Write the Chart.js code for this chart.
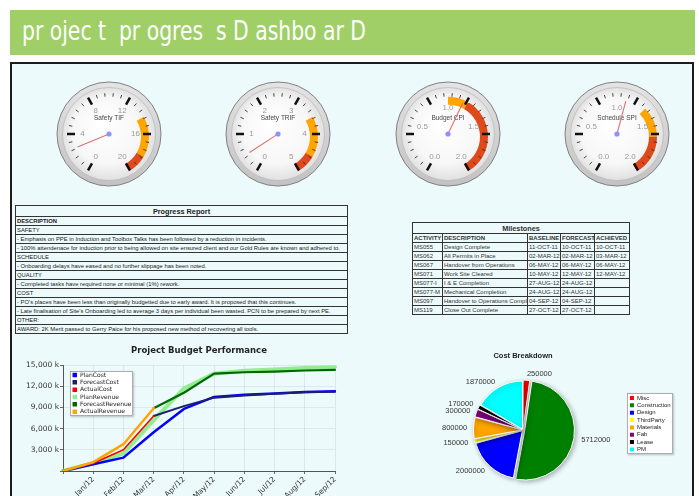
<!DOCTYPE html>
<html><head><meta charset="utf-8">
<script src="https://cdn.jsdelivr.net/npm/chart.js"></script>
<style>
html,body{margin:0;padding:0;}
body{width:699px;height:496px;overflow:hidden;background:#fff;position:relative;font-family:'Liberation Sans',Arial,sans-serif;}
#band{position:absolute;left:10px;top:10px;width:685px;height:45px;background:#a0cf67;overflow:hidden;}
#bandText{position:absolute;left:12px;top:4px;color:#fff;font-family:'Liberation Sans Narrow','DejaVu Sans Condensed',sans-serif;font-size:26px;line-height:34px;white-space:pre;transform-origin:0 50%;}
#panel{position:absolute;left:10px;top:62px;width:680px;height:460px;border:2px solid #1c1c1c;background:#edfafc;}
canvas{position:absolute;}
table.t{position:absolute;border-collapse:collapse;table-layout:fixed;font-family:'Liberation Sans',Arial,sans-serif;color:#222;border:1.5px solid #222;}
table.t td{border:1px solid #333;padding:0 1px;white-space:nowrap;overflow:hidden;font-size:5.85px;height:8px;line-height:7px;text-align:left;}
table.t tr.ttl td{font-size:7.3px;font-weight:bold;text-align:center;height:10px;line-height:9px;}
table.t td.b{font-weight:bold;}
#report{left:15px;top:205px;width:332px;}
#miles{left:412px;top:222px;width:217px;}
#miles td{color:#333;font-size:6px;}
#miles tr.ttl td{font-size:7.3px;}
</style>
</head>
<body>
<div id="band"><span id="bandText">pr ojec t  pr ogres  s D ashbo ar D</span></div>
<div id="panel"></div>
<canvas id="g0" width="120" height="120" style="left:49px;top:74px"></canvas>
<canvas id="g1" width="120" height="120" style="left:218px;top:74px"></canvas>
<canvas id="g2" width="120" height="120" style="left:388px;top:74px"></canvas>
<canvas id="g3" width="120" height="120" style="left:557px;top:74px"></canvas>
<table class="t" id="report"></table>
<table class="t" id="miles"></table>
<canvas id="budget" width="330" height="165" style="left:20px;top:340px"></canvas>
<canvas id="pie" width="265" height="156" style="left:430px;top:340px"></canvas>
<script>
// ---------------- DATA ----------------
const gaugeTitles = ['Safety TIF', 'Safety TRIF', 'Budget CPI', 'Schedule SPI'];
const gaugeMin = [0, 0, 0, 0];
const gaugeMax = [20, 5, 2, 2];
const gaugeValues = [2.5, 0.45, 1.17, 1.10];
const gaugeOrangeFrom = [14, 3.5, 1.0, 1.3];
const gaugeRedFrom = [18, 4.5, 1.2, 1.6];
const gaugeTickLabels = [
  ['0', '4', '8', '12', '16', '20'],
  ['0', '1', '2', '3', '4', '5'],
  ['0.0', '0.5', '1.0', '1.5', '2.0'],
  ['0.0', '0.5', '1.0', '1.5', '2.0']
];

const reportTitle = 'Progress Report';
const reportHeader = 'DESCRIPTION';
const reportRows = [
  'SAFETY',
  '- Emphasis on PPE in Induction and Toolbox Talks has been followed by a reduction in incidents.',
  '- 100% attendenace for induction prior to being allowed on site ensured client and our Gold Rules are known and adhered to.',
  'SCHEDULE',
  '- Onboarding delays have eased and no further slippage has been noted.',
  'QUALITY',
  '- Completed tasks have required none or minimal (1%) rework.',
  'COST',
  "- PO's places have been less than originally budgetted due to early award. It is proposed that this continues.",
  "- Late finalisation of Site's Onboarding led to average 3 days per individual been wasted. PCN to be prepared by next PE.",
  'OTHER:',
  'AWARD: 2K Merit passed to Gerry Paice for his proposed new method of recovering all tools.'
];

const msTitle = 'Milestones';
const msHeaders = ['ACTIVITY', 'DESCRIPTION', 'BASELINE', 'FORECAST', 'ACHIEVED'];
const msActivity = ['MS055', 'MS062', 'MS067', 'MS071', 'MS077-I', 'MS077-M', 'MS097', 'MS119'];
const msDescription = ['Design Complete', 'All Permits in Place', 'Handover from Operations', 'Work Site Cleared', 'I & E Completion', 'Mechanical Completion', 'Handover to Operations Completion', 'Close Out Complete'];
const msBaseline = ['11-OCT-11', '02-MAR-12', '06-MAY-12', '10-MAY-12', '27-AUG-12', '24-AUG-12', '04-SEP-12', '27-OCT-12'];
const msForecast = ['10-OCT-11', '02-MAR-12', '06-MAY-12', '12-MAY-12', '24-AUG-12', '24-AUG-12', '04-SEP-12', '27-OCT-12'];
const msAchieved = ['10-OCT-11', '03-MAR-12', '06-MAY-12', '12-MAY-12', '', '', '', ''];

const months = ['', 'Jan/12', 'Feb/12', 'Mar/12', 'Apr/12', 'May/12', 'Jun/12', 'Jul/12', 'Aug/12', 'Sep/12'];
const planCost        = [0, 950, 1900, 5500, 8800, 10500, 10800, 11000, 11200, 11300];
const forecastCost    = [null, null, null, 7800, 9200, 10400, 10700, 10950, 11150, 11250];
const actualCost      = [0, 1100, 3000, 7800, null, null, null, null, null, null];
const planRevenue     = [0, 1100, 2500, 7200, 11700, 13800, 14200, 14400, 14600, 14750];
const forecastRevenue = [null, null, null, 8900, 11100, 13800, 14000, 14100, 14250, 14350];
const actualRevenue   = [0, 1250, 3800, 8900, null, null, null, null, null, null];
const yTickStep = 3000;
const yMax = 15000;

const costCategories = ['Misc', 'Construction', 'Design', 'ThirdParty', 'Materials', 'Fab', 'Lease', 'PM'];
const costValues = [250000, 5712000, 2000000, 150000, 800000, 300000, 170000, 1870000];
const costColors = ['#ff0000', '#008000', '#0000ff', '#ffff00', '#ffa500', '#800080', '#000000', '#00ffff'];

// ---------------- HEADER ----------------
(function(){
  const s = document.getElementById('bandText');
  const w = s.getBoundingClientRect().width;
  s.style.transform = 'scaleX(' + (344 / w) + ')';
})();

// ---------------- TABLES ----------------
function esc(s){ return s.replace(/&/g,'&amp;').replace(/</g,'&lt;'); }
(function(){
  let h = '<colgroup><col style="width:332px"></colgroup>';
  h += '<tr class="ttl"><td>' + esc(reportTitle) + '</td></tr>';
  h += '<tr><td class="b">' + esc(reportHeader) + '</td></tr>';
  reportRows.forEach(r => { h += '<tr><td>' + esc(r) + '</td></tr>'; });
  document.getElementById('report').innerHTML = h;

  let m = '<colgroup><col style="width:30px"><col style="width:85px"><col style="width:33px"><col style="width:34px"><col style="width:35px"></colgroup>';
  m += '<tr class="ttl"><td colspan="5">' + esc(msTitle) + '</td></tr>';
  m += '<tr>' + msHeaders.map(x => '<td class="b">' + esc(x) + '</td>').join('') + '</tr>';
  msActivity.forEach((a, i) => {
    m += '<tr><td>' + esc(a) + '</td><td>' + esc(msDescription[i]) + '</td><td>' + esc(msBaseline[i]) +
         '</td><td>' + esc(msForecast[i]) + '</td><td>' + esc(msAchieved[i]) + '</td></tr>';
  });
  document.getElementById('miles').innerHTML = m;
})();

// ---------------- GAUGES ----------------
function gaugeAngle(i, v){
  const t = (v - gaugeMin[i]) / (gaugeMax[i] - gaugeMin[i]);
  return ((-150 + 300 * t) - 90) * Math.PI / 180;
}
function degAngle(d){ return (d - 90) * Math.PI / 180; }

const gaugePlugin = {
  id: 'gaugeFace',
  beforeDatasetsDraw(chart, args, opts){
    const ctx = chart.ctx, ca = chart.chartArea;
    const cx = (ca.left + ca.right) / 2, cy = (ca.top + ca.bottom) / 2;
    ctx.save();
    let g = ctx.createLinearGradient(cx, cy - 52, cx, cy + 52);
    g.addColorStop(0, '#e4e4e4'); g.addColorStop(1, '#c2c2c2');
    ctx.beginPath(); ctx.arc(cx, cy, 52, 0, Math.PI * 2);
    ctx.fillStyle = g; ctx.fill();
    ctx.lineWidth = 1; ctx.strokeStyle = '#808080'; ctx.stroke();
    let rg = ctx.createRadialGradient(cx - 8, cy - 12, 2, cx, cy, 47);
    rg.addColorStop(0, '#ffffff'); rg.addColorStop(0.7, '#f7f7f7'); rg.addColorStop(1, '#e0e0e0');
    ctx.beginPath(); ctx.arc(cx, cy, 46.5, 0, Math.PI * 2);
    ctx.fillStyle = rg; ctx.fill();
    ctx.lineWidth = 0.6; ctx.strokeStyle = '#b0b0b0'; ctx.stroke();
    ctx.restore();
  },
  afterDatasetsDraw(chart, args, opts){
    const i = opts.index;
    const ctx = chart.ctx, ca = chart.chartArea;
    const cx = (ca.left + ca.right) / 2, cy = (ca.top + ca.bottom) / 2;
    ctx.save();
    for (let k = 0; k <= 5; k++) {
      const d = -150 + 60 * k;
      const a = degAngle(d);
      ctx.beginPath();
      ctx.moveTo(cx + Math.cos(a) * 34, cy + Math.sin(a) * 34);
      ctx.lineTo(cx + Math.cos(a) * 42, cy + Math.sin(a) * 42);
      ctx.lineWidth = 2.5; ctx.strokeStyle = '#111'; ctx.stroke();
      if (k < 5) {
        for (let mm = 1; mm <= 4; mm++) {
          const b = degAngle(d + 12 * mm);
          ctx.beginPath();
          ctx.moveTo(cx + Math.cos(b) * 37.5, cy + Math.sin(b) * 37.5);
          ctx.lineTo(cx + Math.cos(b) * 41, cy + Math.sin(b) * 41);
          ctx.lineWidth = 0.9; ctx.strokeStyle = '#333'; ctx.stroke();
        }
      }
    }
    const labs = gaugeTickLabels[i];
    ctx.font = '8px "Liberation Sans", Arial, sans-serif';
    ctx.fillStyle = '#999';
    ctx.textAlign = 'center'; ctx.textBaseline = 'middle';
    labs.forEach((l, j) => {
      const a = degAngle(-150 + 300 * j / (labs.length - 1));
      ctx.fillText(l, cx + Math.cos(a) * 26.5, cy + Math.sin(a) * 26.5);
    });
    ctx.font = '6.5px "Liberation Sans", Arial, sans-serif';
    ctx.fillStyle = '#444';
    ctx.fillText(gaugeTitles[i], cx, cy - 16);
    const a = gaugeAngle(i, gaugeValues[i]);
    ctx.beginPath();
    ctx.moveTo(cx - Math.cos(a) * 2, cy - Math.sin(a) * 2);
    ctx.lineTo(cx + Math.cos(a) * 34, cy + Math.sin(a) * 34);
    ctx.lineWidth = 1.1; ctx.strokeStyle = '#e07070'; ctx.stroke();
    ctx.beginPath(); ctx.arc(cx, cy, 2.6, 0, Math.PI * 2);
    ctx.fillStyle = '#9090ff'; ctx.fill();
    ctx.restore();
  }
};

for (let i = 0; i < 4; i++) {
  new Chart(document.getElementById('g' + i), {
    type: 'doughnut',
    data: {
      labels: ['', 'warn', 'alert'],
      datasets: [{
        data: [gaugeOrangeFrom[i] - gaugeMin[i], gaugeRedFrom[i] - gaugeOrangeFrom[i], gaugeMax[i] - gaugeRedFrom[i]],
        backgroundColor: ['rgba(0,0,0,0)', '#ffa500', '#e04a1a'],
        borderWidth: 0
      }]
    },
    options: {
      responsive: false, animation: false, events: [],
      rotation: -150, circumference: 300, radius: 40, cutout: '80%',
      layout: {padding: 0},
      plugins: {legend: {display: false}, tooltip: {enabled: false}, gaugeFace: {index: i}}
    },
    plugins: [gaugePlugin]
  });
}

// ---------------- LEGEND BOX HELPER ----------------
const legendBoxPlugin = {
  id: 'legendBox',
  afterLayout(chart, args, opts){
    const lg = chart.legend; if (!lg) return;
    const w = lg.width, h = lg.height;
    lg.left = opts.left; lg.top = opts.top; lg.right = opts.left + w; lg.bottom = opts.top + h;
    if (!lg._boxPatched) {
      const orig = lg.draw;
      lg.draw = function(){
        const c = chart.ctx;
        c.save();
        c.shadowColor = 'rgba(0,0,0,0.25)'; c.shadowBlur = 2; c.shadowOffsetX = 1; c.shadowOffsetY = 1;
        c.fillStyle = '#fff'; c.fillRect(opts.x, opts.y, opts.w, opts.h);
        c.shadowColor = 'rgba(0,0,0,0)';
        c.strokeStyle = '#999'; c.lineWidth = 0.8; c.strokeRect(opts.x + 0.5, opts.y + 0.5, opts.w - 1, opts.h - 1);
        c.restore();
        return orig.apply(this, arguments);
      };
      lg._boxPatched = true;
    }
  }
};

// ---------------- BUDGET LINE CHART ----------------
const lineLegendLabels = (chart) => Chart.defaults.plugins.legend.labels.generateLabels(chart).map(l => Object.assign(l, {lineWidth: 0}));
new Chart(document.getElementById('budget'), {
  type: 'line',
  data: {
    labels: months,
    datasets: [
      {label: 'PlanCost', data: planCost, borderColor: '#0000ff', backgroundColor: '#0000ff', borderWidth: 2.5, order: 5},
      {label: 'ForecastCost', data: forecastCost, borderColor: '#1e1e6e', backgroundColor: '#1e1e6e', borderWidth: 2, order: 4},
      {label: 'ActualCost', data: actualCost, borderColor: '#ff0000', backgroundColor: '#ff0000', borderWidth: 1.6, order: 2},
      {label: 'PlanRevenue', data: planRevenue, borderColor: '#90ee90', backgroundColor: '#90ee90', borderWidth: 4, order: 6},
      {label: 'ForecastRevenue', data: forecastRevenue, borderColor: '#006800', backgroundColor: '#006800', borderWidth: 2.2, order: 3},
      {label: 'ActualRevenue', data: actualRevenue, borderColor: '#ffa500', backgroundColor: '#ffa500', borderWidth: 2.5, order: 1}
    ]
  },
  options: {
    responsive: false, animation: false, events: [],
    layout: {padding: {left: 0, right: 15, top: 0, bottom: 0}},
    elements: {point: {radius: 0}, line: {tension: 0, borderJoinStyle: 'round', borderCapStyle: 'round'}},
    scales: {
      x: {
        grid: {color: 'rgba(0,0,0,0.07)', tickLength: 3, tickColor: '#666'},
        border: {color: '#555'},
        ticks: {minRotation: 45, maxRotation: 45, autoSkip: false, padding: 1, color: '#333', font: {family: 'DejaVu Sans', size: 7.5}},
        afterFit(s){ s.height = 34; }
      },
      y: {
        min: 0, max: yMax,
        grid: {color: 'rgba(0,0,0,0.07)', tickLength: 3, tickColor: '#666'},
        border: {color: '#555'},
        ticks: {stepSize: yTickStep, padding: 1, color: '#333', font: {family: 'DejaVu Sans', size: 7.5},
          callback: v => v === 0 ? '' : v.toLocaleString('en-US') + ' k'},
        afterFit(s){ s.width = 43; }
      }
    },
    plugins: {
      title: {display: true, text: 'Project Budget Performance', fullSize: false, color: '#222',
        font: {family: 'DejaVu Sans', size: 8.5, weight: 'bold'}, padding: {top: 6, bottom: 9}},
      legend: {position: 'chartArea', align: 'start',
        labels: {boxWidth: 4.5, boxHeight: 4.5, padding: 1.33, color: '#222', font: {family: 'DejaVu Sans', size: 6},
          sort: (a, b) => a.datasetIndex - b.datasetIndex, generateLabels: lineLegendLabels}},
      tooltip: {enabled: false},
      legendBox: {x: 50, y: 31, w: 63, h: 45, left: 51.2, top: 30.7}
    }
  },
  plugins: [legendBoxPlugin]
});

// ---------------- COST PIE ----------------
const pieExtras = {
  id: 'pieExtras',
  beforeDatasetsDraw(chart){
    const c = chart.ctx; c.save();
    c.shadowColor = 'rgba(0,0,0,0.3)'; c.shadowBlur = 5; c.shadowOffsetX = 1.5; c.shadowOffsetY = 1.5;
  },
  afterDatasetsDraw(chart){
    const c = chart.ctx; c.restore();
    const meta = chart.getDatasetMeta(0);
    const ds = chart.data.datasets[0];
    c.save();
    c.font = '7.5px "Liberation Sans", Arial, sans-serif';
    c.fillStyle = '#333'; c.textBaseline = 'middle';
    meta.data.forEach((arc, i) => {
      const p = arc.getProps(['x', 'y', 'startAngle', 'endAngle', 'outerRadius'], true);
      const mid = (p.startAngle + p.endAngle) / 2;
      const off = (arc.options && arc.options.offset) || 0;
      const r = p.outerRadius + off + 4;
      const x = p.x + Math.cos(mid) * r, y = p.y + Math.sin(mid) * r;
      c.textAlign = Math.cos(mid) >= 0 ? 'left' : 'right';
      c.fillText(String(ds.data[i]), x, y);
    });
    c.restore();
  }
};
const pieLegendLabels = (chart) => Chart.overrides.pie.plugins.legend.labels.generateLabels(chart).map(l => Object.assign(l, {lineWidth: 0}));
new Chart(document.getElementById('pie'), {
  type: 'pie',
  data: {
    labels: costCategories,
    datasets: [{data: costValues, backgroundColor: costColors, borderColor: '#ffffff', borderWidth: 1,
      offset: [4, 7, 4, 4, 4, 4, 4, 4]}]
  },
  options: {
    responsive: false, animation: false, events: [],
    radius: 48,
    layout: {padding: {left: 10, right: 89, top: 0, bottom: 6.5}},
    plugins: {
      title: {display: true, text: 'Cost Breakdown', color: '#222',
        font: {family: 'Liberation Sans', size: 7.5, weight: 'bold'}, padding: {top: 11.5, bottom: 10}},
      legend: {position: 'chartArea', align: 'start',
        labels: {boxWidth: 4, boxHeight: 4, padding: 1.36, color: '#222', font: {family: 'Liberation Sans', size: 6},
          generateLabels: pieLegendLabels}},
      tooltip: {enabled: false},
      legendBox: {x: 197, y: 53, w: 46, h: 61, left: 198.6, top: 53.6}
    }
  },
  plugins: [pieExtras, legendBoxPlugin]
});
</script>
</body></html>
